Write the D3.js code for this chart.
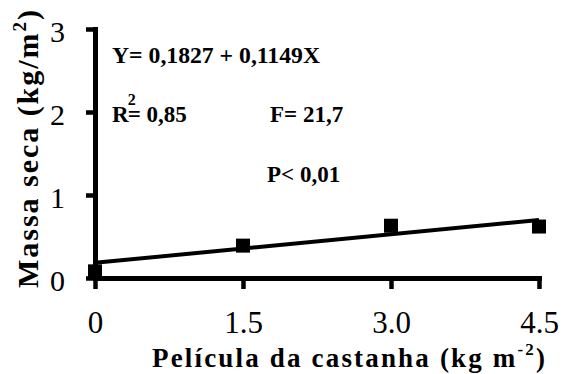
<!DOCTYPE html>
<html>
<head>
<meta charset="utf-8">
<script src="https://cdn.jsdelivr.net/npm/d3@7"></script>
<style>
  html, body { margin: 0; padding: 0; background: #fff; }
  svg { display: block; }
</style>
</head>
<body>
<svg id="chart" width="563" height="374"></svg>
<script>
// ---- data ----
const peliculaX = [0, 1.5, 3.0, 4.5];            // kg m-2
const massaSeca = [0.08, 0.39, 0.63, 0.62];       // kg/m2
const xTickValues = [0, 1.5, 3.0, 4.5];
const xTickLabels = ["0", "1.5", "3.0", "4.5"];
const yTickValues = [0, 1, 2, 3];
const yTickLabels = ["0", "1", "2", "3"];
const regIntercept = 0.1827;
const regSlope = 0.1149;
const regRange = [0, 4.5];
const annotations = ["Y= 0,1827 + 0,1149X", "R", "2", "= 0,85", "F= 21,7", "P< 0,01"];

const FONT = '"Liberation Serif", "Times New Roman", Times, serif';

// ---- layout ----
const svg = d3.select("#chart");
const x = d3.scaleLinear().domain([0, 4.5]).range([95, 539]);
const y = d3.scaleLinear().domain([0, 3]).range([278, 29]);

// axes
const xAxis = d3.axisBottom(x).tickValues(xTickValues)
  .tickFormat((d, i) => xTickLabels[i]).tickSize(11).tickSizeOuter(0).tickPadding(22);
const yAxis = d3.axisLeft(y).tickValues(yTickValues)
  .tickFormat((d, i) => yTickLabels[i]).tickSize(9).tickSizeOuter(0).tickPadding(21);

const gx = svg.append("g").attr("transform", `translate(0,${y(0)})`).call(xAxis);
const gy = svg.append("g").attr("transform", `translate(${x(0)},0)`).call(yAxis);

[gx, gy].forEach(g => {
  g.attr("font-family", FONT);
  g.select(".domain").attr("stroke", "#000").attr("stroke-width", 5).attr("stroke-linecap", "square");
  g.selectAll(".tick line").attr("stroke", "#000").attr("stroke-width", 4.5);
  g.selectAll(".tick text").attr("fill", "#000").style("font-family", FONT);
});
gx.selectAll(".tick text").style("font-size", "31px").attr("dy", "0.71em");
gy.selectAll(".tick text").style("font-size", "30px").attr("dy", "0.42em");

// regression line
const line = d3.line().x(d => x(d)).y(d => y(regIntercept + regSlope * d));
svg.append("path").datum(regRange).attr("d", line)
  .attr("fill", "none").attr("stroke", "#000").attr("stroke-width", 4);

// points
const ms = 14;
svg.selectAll("rect.pt").data(peliculaX).join("rect").attr("class", "pt")
  .attr("x", d => x(d) - ms / 2)
  .attr("y", (d, i) => y(massaSeca[i]) - ms / 2)
  .attr("width", ms).attr("height", ms).attr("fill", "#000");

// annotations
function txt(g) {
  return g.append("text").style("font-family", FONT).style("font-weight", "bold").attr("fill", "#000");
}
const ann = svg.append("g").style("font-size", "23px");
txt(ann).attr("x", 112).attr("y", 63).attr("textLength", 208).attr("lengthAdjust", "spacingAndGlyphs").text(annotations[0]);
const r2 = txt(ann).attr("x", 112).attr("y", 122);
r2.append("tspan").text(annotations[1]);
r2.append("tspan").attr("dx", -1).attr("dy", -17).style("font-size", "16px").text(annotations[2]);
r2.append("tspan").attr("dx", -8).attr("dy", 17).text(annotations[3]);
txt(ann).attr("x", 270).attr("y", 122).text(annotations[4]);
txt(ann).attr("x", 267).attr("y", 182).text(annotations[5]);

// x label
const xl = txt(svg).attr("x", 152).attr("y", 367)
  .style("font-size", "27px")
  .attr("textLength", 393).attr("lengthAdjust", "spacing");
xl.append("tspan").text("Película  da  castanha  (kg m");
xl.append("tspan").attr("dy", -12).style("font-size", "17px").text("-2");
xl.append("tspan").attr("dy", 12).text(")");

// y label
const yl = txt(svg)
  .attr("transform", "translate(38,288) rotate(-90)")
  .attr("x", 0).attr("y", 0)
  .style("font-size", "30px")
  .attr("textLength", 278).attr("lengthAdjust", "spacing");
yl.append("tspan").text("Massa seca  (kg/m");
yl.append("tspan").attr("dy", -12).style("font-size", "19px").text("2");
yl.append("tspan").attr("dy", 12).text(")");
</script>
</body>
</html>
